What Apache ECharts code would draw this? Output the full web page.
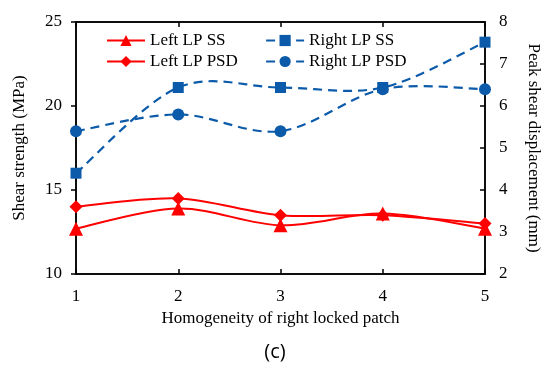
<!DOCTYPE html>
<html>
<head>
<meta charset="utf-8">
<script src="https://cdn.jsdelivr.net/npm/echarts@6/dist/echarts.min.js"></script>
<style>html,body{margin:0;padding:0;background:#fff;}#c{width:550px;height:370px;}</style>
</head>
<body>
<div id="c"></div>
<script>
const categories = ['1', '2', '3', '4', '5'];
const leftSS = [12.7, 13.9, 12.9, 13.6, 12.7];
const leftPSD = [3.6, 3.8, 3.4, 3.4, 3.2];
const rightSS = [16.0, 21.1, 21.1, 21.1, 23.8];
const rightPSD = [5.4, 5.8, 5.4, 6.4, 6.4];
const leftTicks = [10, 15, 20, 25];
const rightTicks = [2, 3, 4, 5, 6, 7, 8];

const FONT = "'Liberation Serif','Times New Roman',serif";
const RED = '#FF0000';
const BLUE = '#0B5BAA';
const DASH = [9, 6];

// Smooth curve (Catmull-Rom style, like spreadsheet smoothing) through points mapped by the axes
function smoothRenderer(values, color, width, dash) {
  return function (params, api) {
    if (params.dataIndex !== 0) return null;
    const pts = values.map((v, i) => api.coord([i, v]));
    const n = pts.length;
    let d = 'M' + pts[0][0] + ' ' + pts[0][1];
    for (let i = 0; i < n - 1; i++) {
      const p0 = pts[Math.max(i - 1, 0)];
      const p1 = pts[i];
      const p2 = pts[i + 1];
      const p3 = pts[Math.min(i + 2, n - 1)];
      const c1x = p1[0] + (p2[0] - p0[0]) / 6;
      const c1y = p1[1] + (p2[1] - p0[1]) / 6;
      const c2x = p2[0] - (p3[0] - p1[0]) / 6;
      const c2y = p2[1] - (p3[1] - p1[1]) / 6;
      d += ' C' + c1x + ' ' + c1y + ' ' + c2x + ' ' + c2y + ' ' + p2[0] + ' ' + p2[1];
    }
    return {
      type: 'path',
      shape: {pathData: d},
      style: {fill: null, stroke: color, lineWidth: width, lineDash: dash || null}
    };
  };
}

function curveSeries(values, yIdx, color, width, dash) {
  return {
    type: 'custom', yAxisIndex: yIdx, z: 2, silent: true,
    data: values.map((v, i) => [i, v]),
    renderItem: smoothRenderer(values, color, width, dash)
  };
}

function markerSeries(name, values, yIdx, symbol, size, color, dash) {
  return {
    name: name, type: 'line', yAxisIndex: yIdx, data: values, z: 3,
    symbol: symbol, symbolSize: size,
    lineStyle: {color: color, width: 2, type: dash || 'solid', opacity: 0},
    itemStyle: {color: color}
  };
}

function legendItem(name, color, width, dash) {
  return {name: name, lineStyle: {color: color, width: width, type: dash || 'solid', opacity: 1}};
}

const chart = echarts.init(document.getElementById('c'), null, {renderer: 'canvas'});
chart.setOption({
  animation: false,
  backgroundColor: '#fff',
  textStyle: {fontFamily: FONT},
  title: {
    text: '(c)', left: 'center', top: 337,
    textStyle: {fontFamily: "'Open Sans','Noto Sans',sans-serif", fontSize: 20, fontWeight: 'normal', color: '#000'}
  },
  grid: {left: 76, right: 63, top: 22, bottom: 96, show: true, borderColor: '#000', borderWidth: 1.5, backgroundColor: 'transparent'},
  legend: [
    {
      orient: 'vertical', left: 106, top: 32, padding: 0, itemWidth: 38, itemHeight: 14, itemGap: 4,
      data: [legendItem('Left LP SS', RED, 2), legendItem('Left LP PSD', RED, 2)],
      textStyle: {fontFamily: FONT, fontSize: 17, color: '#000'}
    },
    {
      orient: 'vertical', left: 265, top: 32, padding: 0, itemWidth: 38, itemHeight: 14, itemGap: 4,
      data: [legendItem('Right LP SS', BLUE, 2.2, DASH), legendItem('Right LP PSD', BLUE, 2.2, DASH)],
      textStyle: {fontFamily: FONT, fontSize: 17, color: '#000'}
    }
  ],
  xAxis: [
    {
      type: 'category', data: categories, boundaryGap: false, position: 'bottom',
      name: 'Homogeneity of right locked patch', nameLocation: 'middle', nameGap: 36,
      nameTextStyle: {fontFamily: FONT, fontSize: 17, color: '#000'},
      axisLine: {lineStyle: {color: '#000', width: 1.5}},
      axisTick: {inside: true, length: 5, lineStyle: {color: '#000', width: 1.5}},
      axisLabel: {fontFamily: FONT, fontSize: 17, color: '#000', margin: 14},
      splitLine: {show: false}
    },
    {
      type: 'category', data: categories, boundaryGap: false, position: 'top',
      axisLine: {lineStyle: {color: '#000', width: 1.5}},
      axisTick: {inside: true, length: 5, lineStyle: {color: '#000', width: 1.5}},
      axisLabel: {show: false},
      splitLine: {show: false}
    }
  ],
  yAxis: [
    {
      type: 'value', min: leftTicks[0], max: leftTicks[leftTicks.length - 1], interval: 5, position: 'left',
      name: 'Shear strength (MPa)', nameLocation: 'middle', nameGap: 48,
      nameTextStyle: {fontFamily: FONT, fontSize: 17, color: '#000'},
      axisLine: {show: true, lineStyle: {color: '#000', width: 1.5}},
      axisTick: {show: true, inside: false, length: 5, lineStyle: {color: '#000', width: 1.5}},
      axisLabel: {fontFamily: FONT, fontSize: 17, color: '#000', margin: 14},
      splitLine: {show: false}
    },
    {
      type: 'value', min: rightTicks[0], max: rightTicks[rightTicks.length - 1], interval: 1, position: 'right',
      name: 'Peak shear displacement (mm)', nameLocation: 'middle', nameGap: 40, nameRotate: -90,
      nameTextStyle: {fontFamily: FONT, fontSize: 17, color: '#000'},
      axisLine: {show: true, lineStyle: {color: '#000', width: 1.5}},
      axisTick: {show: true, inside: true, length: 5, lineStyle: {color: '#000', width: 1.5}},
      axisLabel: {fontFamily: FONT, fontSize: 17, color: '#000', margin: 14},
      splitLine: {show: false}
    }
  ],
  series: [
    curveSeries(leftSS, 0, RED, 2),
    curveSeries(leftPSD, 1, RED, 2),
    curveSeries(rightSS, 0, BLUE, 2.2, DASH),
    curveSeries(rightPSD, 1, BLUE, 2.2, DASH),
    markerSeries('Left LP SS', leftSS, 0, 'triangle', 14, RED),
    markerSeries('Left LP PSD', leftPSD, 1, 'diamond', 13, RED),
    markerSeries('Right LP SS', rightSS, 0, 'rect', 11, BLUE, DASH),
    markerSeries('Right LP PSD', rightPSD, 1, 'circle', 12, BLUE, DASH)
  ]
});
</script>
</body>
</html>
